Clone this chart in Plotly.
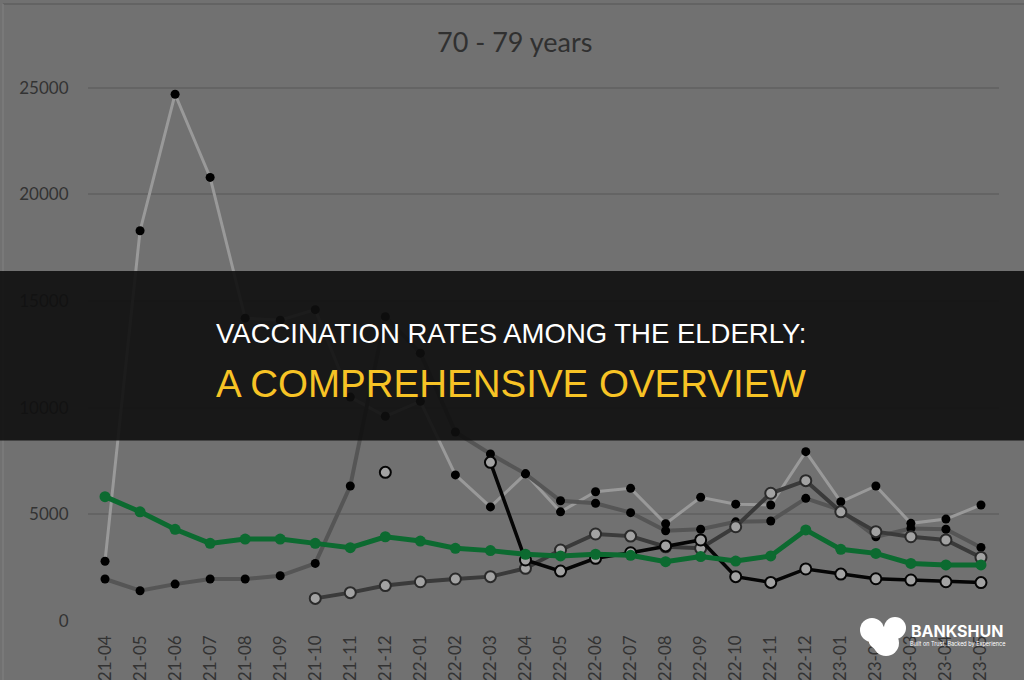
import plotly.graph_objects as go

W, H = 1024, 680

months = ["2021-04", "2021-05", "2021-06", "2021-07", "2021-08", "2021-09", "2021-10",
          "2021-11", "2021-12", "2022-01", "2022-02", "2022-03", "2022-04", "2022-05",
          "2022-06", "2022-07", "2022-08", "2022-09", "2022-10", "2022-11", "2022-12",
          "2023-01", "2023-02", "2023-03", "2023-04", "2023-05"]

series_a = [2800, 18300, 24700, 20800, 14200, 14100, 14600, 10500, 9600, 10300, 6850, 5350, 6900,
            5120, 6060, 6220, 4560, 5800, 5480, 5440, 7940, 5590, 6330, 4580, 4780, 5440]
series_b = [1970, 1420, 1730, 1970, 1970, 2120, 2700, 6330, 14270, 12560, 8860, 7830, 6900,
            5640, 5520, 5080, 4230, 4300, 4650, 4690, 5750, 5200, 3950, 4340, 4300, 3450]
series_c = [None, None, None, None, None, None, 1060, 1330, 1660, 1840, 1970, 2080, 2470,
            3330, 4080, 3980, 3480, 3410, 4420, 5990, 6580, 5120, 4190, 3950, 3800, 2980]
series_d = [None, None, None, None, None, None, None, None, 6970, None, None, 7440, 2860,
            2340, 2940, 3200, 3520, 3800, 2080, 1810, 2440, 2200, 1980, 1920, 1840, 1800]
series_green = [5830, 5120, 4300, 3640, 3840, 3840, 3640, 3440, 3950, 3750, 3410, 3300, 3130,
                3050, 3130, 3080, 2780, 3020, 2810, 3050, 4270, 3360, 3170, 2700, 2630, 2630]

y_ticks = [0, 5000, 10000, 15000, 20000, 25000]
chart_title = "70 - 79 years"
banner_line1 = "VACCINATION RATES AMONG THE ELDERLY:"
banner_line2 = "A COMPREHENSIVE OVERVIEW"


def px(x):
    return x / W


def py(y):
    return 1 - y / H


fig = go.Figure()

fig.add_trace(go.Scatter(
    x=months, y=series_a, mode="lines+markers", connectgaps=False,
    line=dict(color="#999999", width=3),
    marker=dict(size=9, color="#000000", line=dict(width=0)), showlegend=False))
fig.add_trace(go.Scatter(
    x=months, y=series_b, mode="lines+markers", connectgaps=False,
    line=dict(color="#555555", width=4),
    marker=dict(size=9, color="#000000", line=dict(width=0)), showlegend=False))
fig.add_trace(go.Scatter(
    x=months, y=series_c, mode="lines+markers", connectgaps=False,
    line=dict(color="#3a3a3a", width=4),
    marker=dict(size=11, color="#a2a2a2", line=dict(width=2, color="#2a2a2a")), showlegend=False))
fig.add_trace(go.Scatter(
    x=months, y=series_d, mode="lines+markers", connectgaps=False,
    line=dict(color="#050505", width=3.5),
    marker=dict(size=11, color="#a2a2a2", line=dict(width=2, color="#050505")), showlegend=False))
fig.add_trace(go.Scatter(
    x=months, y=series_green, mode="lines+markers", connectgaps=False,
    line=dict(color="#0c6a30", width=5),
    marker=dict(size=11, color="#0c6a30", line=dict(width=0)), showlegend=False))

tick_font = dict(family="Lato, 'Open Sans', sans-serif", size=17, color="#333333")

fig.update_layout(
    width=W, height=H,
    margin=dict(l=0, r=0, t=0, b=0),
    paper_bgcolor="#717171",
    plot_bgcolor="#717171",
    template="none",
    showlegend=False,
    xaxis=dict(
        type="category", categoryorder="array", categoryarray=months,
        range=[-0.5, len(months) - 0.5],
        domain=[px(87.5), px(998.5)],
        showgrid=False, zeroline=False, showline=False, ticks="",
        tickangle=-90, tickfont=tick_font, automargin=False,
        ticklabelstandoff=10,
    ),
    yaxis=dict(
        range=[0, 26000],
        domain=[py(621), py(66.5)],
        tickmode="array", tickvals=y_ticks, ticktext=[str(v) for v in y_ticks],
        showgrid=True, gridcolor="#646464", gridwidth=1.5,
        zeroline=False, showline=False, ticks="",
        tickfont=tick_font, automargin=False,
        ticklabelstandoff=18,
    ),
)

# chart frame lines
fig.add_shape(type="line", xref="paper", yref="paper", x0=px(3), x1=1, y0=py(4), y1=py(4),
              line=dict(color="#5f5f5f", width=1.5), layer="below")
fig.add_shape(type="line", xref="paper", yref="paper", x0=px(3), x1=px(3), y0=0, y1=py(4),
              line=dict(color="#7d7d7d", width=1.5), layer="below")

# chart title
fig.add_annotation(text=chart_title, xref="paper", yref="paper", x=px(514), y=py(41),
                   showarrow=False, xanchor="center", yanchor="middle",
                   font=dict(family="Lato, 'Open Sans', sans-serif", size=27, color="#303030"))

# dark banner
fig.add_shape(type="rect", xref="paper", yref="paper", x0=0, x1=1, y0=py(440.5), y1=py(271),
              fillcolor="rgba(14,14,14,0.9)", line=dict(width=0), layer="above")
fig.add_annotation(text=banner_line1, xref="paper", yref="paper", x=px(511), y=py(333),
                   showarrow=False, xanchor="center", yanchor="middle",
                   font=dict(family="'Liberation Sans', Arial, sans-serif", size=27.5, color="#ffffff"))
fig.add_annotation(text=banner_line2, xref="paper", yref="paper", x=px(511), y=py(383),
                   showarrow=False, xanchor="center", yanchor="middle",
                   font=dict(family="'Liberation Sans', Arial, sans-serif", size=38.5, color="#f7c325"))

# logo blob
for cx, cy, r in [(872, 630, 12), (895, 628, 11), (886, 643, 13), (880, 638, 12)]:
    fig.add_shape(type="circle", xref="paper", yref="paper",
                  x0=px(cx - r), x1=px(cx + r), y0=py(cy + r), y1=py(cy - r),
                  fillcolor="#ffffff", line=dict(width=0), layer="above")
fig.add_annotation(text="<b>BANKSHUN</b>", xref="paper", yref="paper", x=px(957), y=py(631),
                   showarrow=False, xanchor="center", yanchor="middle",
                   font=dict(family="Inter, 'Open Sans', sans-serif", size=16, color="#ffffff"))
fig.add_annotation(text="Built on Trust, Backed by Experience", xref="paper", yref="paper",
                   x=px(957), y=py(644), showarrow=False, xanchor="center", yanchor="middle",
                   font=dict(family="Inter, 'Open Sans', sans-serif", size=5.5, color="#ffffff"))

fig.write_html("out.html")
